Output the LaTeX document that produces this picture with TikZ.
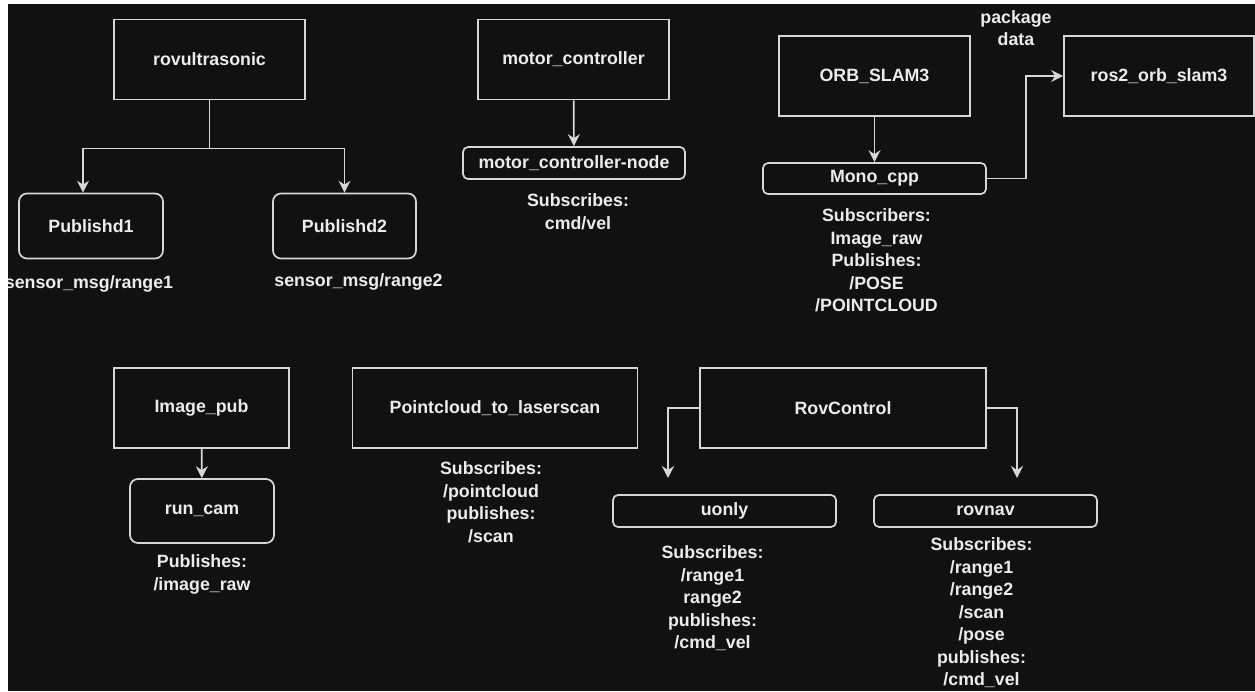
\documentclass[tikz,border=0pt]{standalone}
\usepackage{fontspec}
\newfontfamily\diafont{Liberation Sans}
\usetikzlibrary{positioning,arrows.meta}

\definecolor{canvas}{RGB}{17,17,17}
\definecolor{edge}{RGB}{215,215,215}
\definecolor{ink}{RGB}{236,236,236}

\begin{document}
\begin{tikzpicture}[
  x=1pt,y=-1pt,
  font=\diafont\bfseries\fontsize{17.8}{22.5}\selectfont,
  pkg/.style={draw=edge,line width=1.7pt,minimum width=191pt,minimum height=80pt,text=ink,inner sep=0pt},
  topic/.style={draw=edge,line width=1.7pt,rounded corners=8pt,minimum width=144pt,minimum height=65pt,text=ink,inner sep=0pt},
  slim/.style={draw=edge,line width=1.7pt,rounded corners=5pt,minimum width=223pt,minimum height=32pt,text=ink,inner sep=0pt},
  info/.style={text=ink,align=center,inner sep=0pt},
  line/.style={draw=edge,line width=1.7pt},
  wire/.style={line,-{Stealth[length=12pt,width=12pt,inset=4pt]}},
]
  \useasboundingbox (0,0) rectangle (1255,691);
  \fill[canvas] (8,4) rectangle (1255,691);

  % ultrasonic package and its two publishers
  \node[pkg] (ultra) at (209.5,59.5) {rovultrasonic};
  \node[topic] (pub1) at (91,226) {Publishd1};
  \node[topic,minimum width=143pt] (pub2) at (344.5,226) {Publishd2};
  \node[info,below=16pt of pub1,xshift=-2pt] (range1) {sensor\_msg/range1};
  \node[info,below=14pt of pub2,xshift=14pt] (range2) {sensor\_msg/range2};

  \draw[line] (ultra.south) -- ++(0,48) coordinate (fork);
  \draw[wire] (fork) -| ([xshift=-8pt]pub1.north);
  \draw[wire] (fork) -| (pub2.north);

  % motor controller
  \node[pkg] (motor) at (573.5,59.5) {motor\_controller};
  \node[slim,minimum width=222pt] (motornode) at (574,163) {motor\_controller-node};
  \node[info,below=14pt of motornode,xshift=4pt] (motorinfo) {Subscribes:\\cmd/vel};
  \draw[wire] (motor) -- (motornode);

  % ORB-SLAM3 side
  \node[pkg] (orb) at (874.5,76) {ORB\_SLAM3};
  \node[pkg,minimum width=190pt] (ros2) at (1159,76) {ros2\_orb\_slam3};
  \node[slim,minimum height=31pt] (mono) at (874.5,178.5) {Mono\_cpp};
  \node[info,below=14pt of mono,xshift=2pt] (monoinfo)
    {Subscribers:\\Image\_raw\\Publishes:\\/POSE\\/POINTCLOUD};
  \node[info] (pkgdata) at (1016,28) {package\\data};
  \draw[wire] (orb) -- (mono);
  \draw[wire] (mono.east) -- ++(39,0) |- (ros2.west);

  % camera
  \node[pkg,minimum width=175pt] (imgpub) at (201.5,408) {Image\_pub};
  \node[topic,minimum height=64pt] (runcam) at (202,511) {run\_cam};
  \node[info,below=11pt of runcam] (caminfo) {Publishes:\\/image\_raw};
  \draw[wire] (imgpub) -- (runcam);

  % pointcloud to laserscan
  \node[pkg,minimum width=285pt] (pc2ls) at (495,408) {Pointcloud\_to\_laserscan};
  \node[info,below=13pt of pc2ls,xshift=-4pt] (scaninfo)
    {Subscribes:\\/pointcloud\\publishes:\\/scan};

  % rover control
  \node[pkg,minimum width=286pt] (rovctl) at (843,408) {RovControl};
  \node[slim] (uonly) at (724.5,511) {uonly};
  \node[slim] (rovnav) at (985.5,511) {rovnav};
  \node[info,below=18pt of uonly,xshift=-12pt] (uonlyinfo)
    {Subscribes:\\/range1\\range2\\publishes:\\/cmd\_vel};
  \node[info,below=10pt of rovnav,xshift=-4pt] (rovnavinfo)
    {Subscribes:\\/range1\\/range2\\/scan\\/pose\\publishes:\\/cmd\_vel};
  \coordinate (uonlyin) at (668,478);
  \coordinate (rovnavin) at (1017,478);
  \draw[wire] (rovctl.west) -| (uonlyin);
  \draw[wire] (rovctl.east) -| (rovnavin);

  \fill[white] (0,0) rectangle (8,691);
  \fill[white] (0,0) rectangle (1255,4);
\end{tikzpicture}
\end{document}
